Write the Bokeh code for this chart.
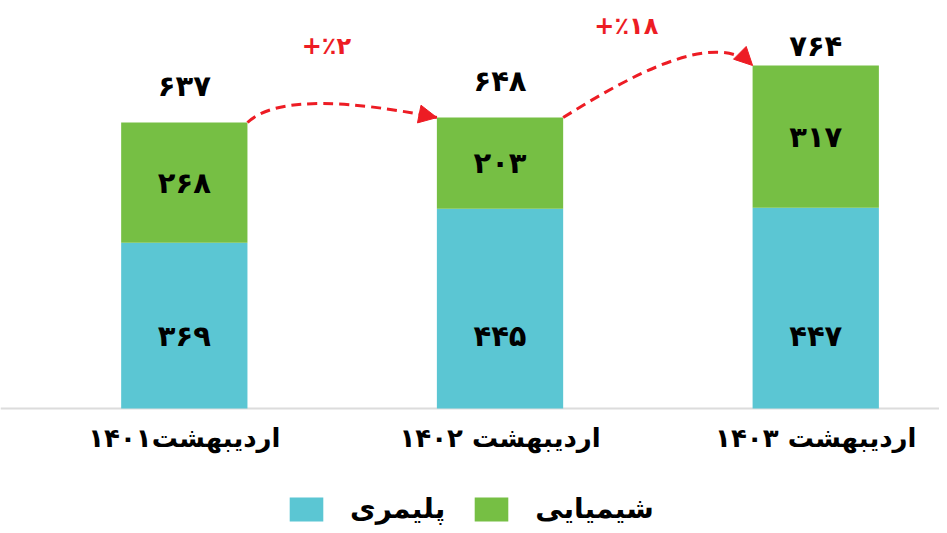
import numpy as np
from bokeh.plotting import figure
from bokeh.models import (ColumnDataSource, Range1d, Span, Legend, LegendItem,
                          Arrow, NormalHead)
from bokeh.core.properties import value
from bokeh.embed import file_html
from bokeh.resources import INLINE

# ---- data ----
categories = ["اردیبهشت۱۴۰۱", "اردیبهشت ۱۴۰۲", "اردیبهشت ۱۴۰۳"]
polymer = [369, 445, 447]
chemical = [268, 203, 317]
series_names = ["پلیمری", "شیمیایی"]

# ---- style ----
CYAN = "#5BC6D3"
GREEN = "#76BF44"
RED = "#ED1C24"
FONT_NAME = "DejaVu Sans"
FONT = value(FONT_NAME)
BAR_W = 0.4

FA = str.maketrans("0123456789", "۰۱۲۳۴۵۶۷۸۹")


def fa(v):
    return str(v).translate(FA)


x = np.arange(len(categories))
pol = np.array(polymer)
chem = np.array(chemical)
totals = pol + chem

src = ColumnDataSource(dict(
    x=x, polymer=pol, chemical=chem,
    cat=categories,
    pol_lbl=[fa(v) for v in pol],
    chem_lbl=[fa(v) for v in chem],
    chem_y=pol + chem / 2.0,
    tot_lbl=[fa(v) for v in totals],
    tot_y=np.minimum(totals + 81, 808),
    zero=np.zeros(len(x)),
))

p = figure(width=939, height=525,
           x_range=Range1d(-0.5822, 2.392), y_range=Range1d(-260.6, 908.8),
           x_axis_location=None, y_axis_location=None,
           output_backend="svg", toolbar_location=None, min_border=0)
p.grid.visible = False
p.outline_line_color = None
p.background_fill_color = "white"
p.border_fill_color = "white"

rs = p.vbar_stack(["polymer", "chemical"], x="x", width=BAR_W, color=[CYAN, GREEN],
                  line_color=None, source=src)

p.add_layout(Span(location=0, dimension="width", line_color="#dcdcdc",
                  line_width=2, level="underlay"))

# value labels
p.text(x="x", y="zero", text="pol_lbl", source=src, y_offset=-73,
       text_align="center", text_baseline="middle", text_font=FONT,
       text_font_size="29px", text_font_style="bold", text_color="black")
p.text(x="x", y="chem_y", text="chem_lbl", source=src,
       text_align="center", text_baseline="middle", text_font=FONT,
       text_font_size="29px", text_font_style="bold", text_color="black")
p.text(x="x", y="tot_y", text="tot_lbl", source=src,
       text_align="center", text_baseline="middle", text_font=FONT,
       text_font_size="29px", text_font_style="bold", text_color="black")

# category labels
p.text(x="x", y="zero", text="cat", source=src, y_offset=29,
       text_align="center", text_baseline="middle", text_font=FONT,
       text_font_size="26px", text_font_style="bold", text_color="black")

# growth arrows between consecutive bars
ctrl = [((0.09, 60), (-0.27, 38)), ((0.213, 94), (-0.117, 82))]
lbl_pos = [(0.45, 808), (1.40, 851)]
x0s, y0s, x1s, y1s, cx0s, cy0s, cx1s, cy1s = [], [], [], [], [], [], [], []
pct_txt = []
for i in range(len(x) - 1):
    xs, ys = x[i] + BAR_W / 2, totals[i]
    xe, ye = x[i + 1] - BAR_W / 2, totals[i + 1]
    (a, b), (c, d) = ctrl[i]
    x0s.append(xs); y0s.append(ys); x1s.append(xe); y1s.append(ye)
    cx0s.append(xs + a); cy0s.append(ys + b)
    cx1s.append(xe + c); cy1s.append(ye + d)
    pct = round((totals[i + 1] - totals[i]) / totals[i] * 100)
    pct_txt.append("+٪" + fa(pct))
    p.add_layout(Arrow(end=NormalHead(size=18, fill_color=RED, line_color=RED),
                       x_start=xe + c, y_start=ye + d, x_end=xe, y_end=ye,
                       line_alpha=0))

p.bezier(x0=x0s, y0=y0s, x1=x1s, y1=y1s, cx0=cx0s, cy0=cy0s, cx1=cx1s, cy1=cy1s,
         line_color=RED, line_width=3, line_dash="10 6")

p.text(x=[q[0] for q in lbl_pos], y=[q[1] for q in lbl_pos], text=pct_txt,
       text_align="center", text_baseline="middle", text_font=FONT,
       text_font_size="24px", text_font_style="bold", text_color=RED)

legend = Legend(items=[LegendItem(label=series_names[0], renderers=[rs[0]]),
                       LegendItem(label=series_names[1], renderers=[rs[1]])],
                orientation="horizontal", location=(285, 0),
                glyph_width=42, glyph_height=30, label_standoff=23, spacing=25,
                padding=0, margin=0, border_line_color=None,
                background_fill_alpha=0, label_text_font=FONT_NAME,
                label_text_font_size="28px", label_text_font_style="bold",
                label_text_color="black", label_text_baseline="middle")
p.add_layout(legend)

open("out.html", "w").write(file_html(p, INLINE))
